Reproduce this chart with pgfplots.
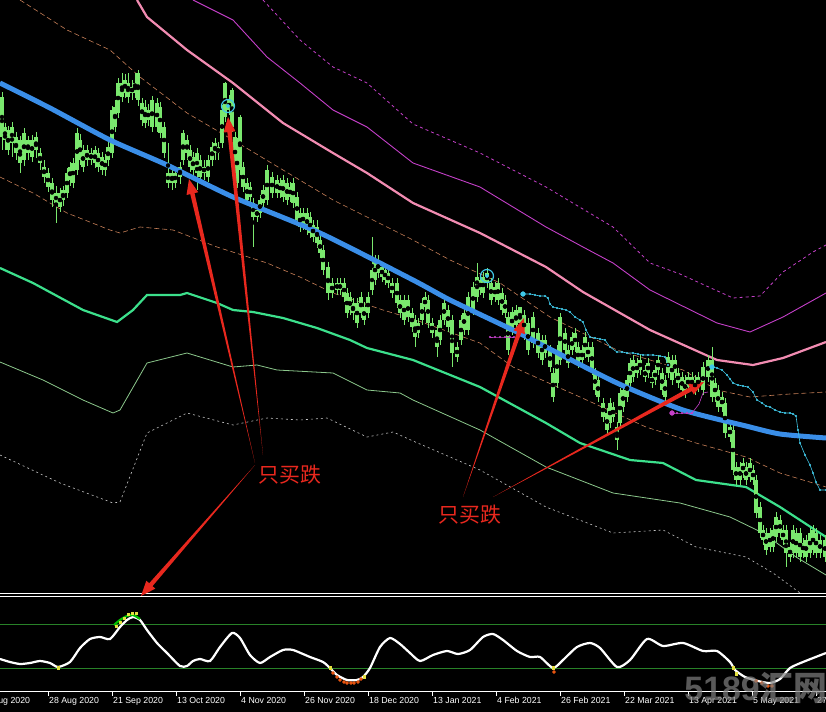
\documentclass[border=0pt]{standalone}
\usepackage{pgfplots}
\pgfplotsset{compat=1.18}
\usepackage{pgfplotstable}
\usetikzlibrary{calc}
\usepackage{fontspec}
\setmainfont{Liberation Sans}
\newfontfamily\cjk{Noto Sans CJK SC}

\definecolor{candle}{RGB}{122,232,110}
\definecolor{maBlue}{RGB}{58,142,232}
\definecolor{bandPink}{RGB}{242,140,178}
\definecolor{bandMag}{RGB}{196,64,200}
\definecolor{bandOrange}{RGB}{200,128,88}
\definecolor{bandGreen}{RGB}{60,224,140}
\definecolor{bandLight}{RGB}{140,200,140}
\definecolor{bandGrey}{RGB}{200,200,200}
\definecolor{stopCyan}{RGB}{64,200,232}
\definecolor{arrowRed}{RGB}{232,40,30}
\definecolor{levelGreen}{RGB}{40,130,40}
\definecolor{dotYellow}{RGB}{228,224,64}
\definecolor{dotOrange}{RGB}{230,84,16}

% candles in screen units: body top/bottom, wick top/bottom (y grows downward)
\pgfplotstableread{
x bt bb wt wb
2 97 137 92 150
5 127 140 123 150
8 130 150 126 155
12 127 143 122 157
16 137 153 132 160
20 140 163 136 173
24 133 160 128 166
28 140 153 136 160
32 140 157 135 162
36 137 150 132 158
40 153 163 148 170
44 167 177 160 183
48 173 187 168 192
52 183 200 178 207
56 193 203 186 223
60 193 207 188 212
63 190 200 186 206
67 173 193 168 198
70 167 180 162 186
73 163 183 158 188
77 133 170 128 175
80 140 160 134 165
83 150 167 145 172
87 150 160 145 166
91 153 160 148 165
95 150 163 146 168
98 153 167 148 172
102 157 170 152 175
105 160 170 154 176
108 147 160 142 166
112 110 153 106 158
115 107 127 100 132
118 83 113 78 118
122 83 97 73 102
125 80 93 74 98
128 83 97 73 103
132 87 93 80 100
135 83 93 73 98
138 73 100 70 106
142 103 120 98 126
145 107 123 100 128
148 110 120 104 126
152 100 127 96 132
157 103 127 98 132
160 107 133 102 138
164 127 153 122 158
168 173 183 143 188
172 173 183 168 190
175 173 183 168 188
180 167 177 162 184
183 133 160 130 165
187 140 153 135 160
190 150 167 145 172
193 157 170 152 176
197 153 173 148 190
200 160 177 155 182
204 167 173 160 180
208 160 177 155 182
212 147 160 142 166
215 143 153 138 160
218 147 153 142 160
222 110 143 105 148
225 83 117 82 122
229 100 110 95 115
232 90 127 88 132
235 137 167 132 172
237 143 183 138 188
240 117 170 115 175
243 167 187 162 192
247 183 200 178 205
250 187 197 182 202
253 203 217 198 247
257 210 217 205 222
260 200 213 195 218
263 190 203 185 208
267 170 200 165 205
272 177 193 172 198
277 180 193 175 198
280 183 193 178 198
283 180 197 175 202
287 183 200 178 205
290 187 197 182 202
293 183 203 178 208
297 197 220 192 225
300 213 227 208 232
303 213 225 208 230
307 213 230 208 235
310 217 233 212 238
313 225 237 220 242
317 227 243 220 248
320 240 253 235 258
323 250 270 245 275
328 267 293 262 300
332 283 293 278 298
337 283 290 278 295
340 283 290 278 295
344 283 297 278 302
347 293 313 288 318
350 297 310 292 315
353 303 313 298 320
357 303 323 298 328
361 297 313 292 318
364 307 320 302 325
368 297 313 292 318
372 270 290 237 295
375 260 280 255 285
378 260 273 255 278
382 267 277 262 282
385 270 280 265 285
388 273 283 268 288
392 283 293 278 298
397 283 303 278 308
400 300 313 295 318
404 300 320 295 325
408 300 317 295 322
412 313 327 308 332
415 320 337 315 347
418 323 333 318 338
422 303 320 298 325
425 297 307 292 312
428 300 323 295 328
432 323 333 318 338
437 330 347 325 357
440 320 340 315 345
444 303 320 298 325
448 310 327 305 332
452 320 353 315 367
457 347 357 342 362
461 320 340 315 345
464 313 330 308 335
468 297 330 292 335
473 287 310 282 315
477 277 297 263 302
480 280 290 275 295
483 277 293 272 298
487 273 283 268 288
491 283 300 278 305
495 287 297 282 302
498 283 300 278 305
502 293 310 288 315
505 300 313 295 318
508 317 350 312 355
512 312 330 307 335
516 310 325 305 332
520 307 323 307 328
524 315 335 310 340
528 323 350 318 355
533 317 343 312 348
538 333 353 328 358
542 340 360 335 365
545 340 353 335 358
550 350 367 345 372
553 373 397 368 402
557 350 383 345 388
560 317 360 313 365
565 333 350 328 355
568 350 363 345 368
572 337 350 332 355
575 333 347 328 352
578 347 363 342 368
582 350 360 345 365
585 337 353 332 358
588 347 357 342 362
592 347 370 342 375
595 373 390 368 395
598 380 397 375 402
603 403 417 398 422
607 413 430 408 435
610 403 423 398 428
613 407 417 402 422
617 427 440 422 450
620 393 423 388 428
623 390 407 385 412
627 380 397 375 402
630 363 383 358 388
633 360 377 355 382
637 363 373 358 378
640 360 370 355 375
645 370 377 365 382
648 363 373 358 378
652 377 383 372 388
655 370 380 365 385
658 360 370 355 375
662 373 390 368 395
665 380 397 375 402
668 357 373 352 378
672 360 380 355 385
675 360 373 355 378
678 373 383 368 388
682 377 390 372 395
685 380 393 375 398
688 377 387 372 392
692 377 387 372 392
695 380 390 375 395
698 377 387 372 392
703 367 390 362 395
708 360 377 355 382
712 360 397 347 402
715 383 397 378 402
718 390 407 385 412
722 397 407 392 412
725 403 433 398 438
730 427 437 422 442
733 430 470 425 475
736 467 480 462 485
740 467 480 462 485
743 463 473 458 478
746 467 480 462 485
750 463 477 458 482
753 470 480 465 485
756 480 513 475 518
760 507 533 502 538
763 530 540 525 545
766 533 550 528 555
770 533 547 528 552
773 530 547 525 552
776 517 537 512 542
780 520 533 515 538
783 530 540 525 545
786 530 553 525 567
790 547 557 542 562
793 530 553 525 558
796 533 553 528 558
800 533 557 528 562
803 543 553 538 558
806 540 557 535 562
810 533 553 528 558
813 530 550 525 555
816 533 553 528 558
820 540 553 535 558
825 540 557 535 562
}\candles

\newcommand{\taper}[2]{%
  \coordinate (T) at (axis cs:#1);
  \coordinate (H) at (axis cs:#2);
  \coordinate (B) at ($(H)!15bp!(T)$);
  \fill[arrowRed] (T) -- ($(B)!2.2bp!90:(H)$) -- ($(B)!6bp!90:(H)$) -- (H)
    -- ($(B)!6bp!-90:(H)$) -- ($(B)!2.2bp!-90:(H)$) -- cycle;
}

\begin{document}
\begin{tikzpicture}
\path[use as bounding box] (0,0) rectangle (826bp,712bp);
\clip (0,0) rectangle (826bp,712bp);
\fill[black] (0,0) rectangle (826bp,712bp);

% ---------------- price window ----------------
\begin{axis}[
  at={(0bp,712bp)}, anchor=north west,
  scale only axis, width=826bp, height=593bp,
  xmin=0, xmax=826, ymin=0, ymax=593, y dir=reverse,
  hide axis, clip=false,
]
% outer bands
\addplot[bandMag, line width=0.8bp, dash pattern=on 3bp off 3bp] coordinates {
(263,0) (300,40) (333,67) (367,83) (413,124) (480,153) (546,187) (613,227)
(650,263) (680,274) (733,298) (760,296) (783,272) (813,252) (826,245)};
\addplot[bandMag, line width=0.9bp] coordinates {
(193,0) (233,20) (267,57) (300,83) (333,110) (367,127) (413,163) (480,187)
(546,227) (583,247) (613,263) (650,290) (717,323) (750,332) (783,317) (826,293)};
\addplot[bandPink, line width=2.2bp] coordinates {
(137,0) (147,17) (187,50) (233,83) (283,123) (333,153) (367,173) (413,203)
(480,233) (546,267) (583,292) (650,330) (717,360) (753,365) (783,358) (826,342)};
\addplot[bandOrange, line width=0.6bp, dash pattern=on 5bp off 3bp] coordinates {
(20,0) (67,30) (110,50) (140,77) (187,113) (233,140) (283,170) (333,200)
(413,240) (450,260) (500,283) (550,317) (617,350) (683,370) (717,390)
(750,397) (790,394) (826,392)};
\addplot[bandOrange, line width=0.6bp, dash pattern=on 5bp off 3bp] coordinates {
(0,177) (33,193) (67,213) (110,230) (120,233) (140,227) (173,230) (217,247)
(267,263) (300,277) (333,293) (383,310) (413,319) (480,343) (513,367)
(580,397) (646,427) (696,443) (746,457) (780,473) (813,483) (826,487)};
\addplot[bandGreen, line width=2.2bp] coordinates {
(0,268) (33,283) (83,310) (117,322) (133,310) (147,295) (180,295) (187,293)
(217,303) (233,310) (253,312) (283,318) (317,328) (350,340) (367,348)
(413,360) (480,387) (546,423) (580,443) (630,460) (663,463) (696,480)
(746,487) (780,507) (826,537)};
\addplot[bandLight, line width=0.8bp] coordinates {
(0,362) (43,380) (83,400) (113,413) (120,410) (147,363) (187,353) (233,367)
(257,365) (277,370) (333,373) (367,390) (400,393) (413,400) (480,430)
(546,467) (613,493) (680,503) (730,517) (763,533) (796,557) (826,575)};
\addplot[bandGrey, line width=0.6bp, dash pattern=on 2bp off 3bp] coordinates {
(0,455) (60,483) (113,503) (120,502) (147,433) (187,413) (233,425) (267,418)
(300,420) (327,418) (367,437) (393,432) (413,441) (480,470) (546,507)
(613,533) (663,530) (696,547) (746,557) (773,573) (796,590) (800,593)};

% candles
\addplot[only marks, mark=none, error bars/.cd, y dir=both, y explicit,
  error mark=none, error bar style={draw=candle, line width=1bp}]
  table[x=x, y expr={(\thisrow{wt}+\thisrow{wb})/2},
        y error expr={(\thisrow{wb}-\thisrow{wt})/2}] {\candles};
\addplot[only marks, mark=none, error bars/.cd, y dir=both, y explicit,
  error mark=none, error bar style={draw=candle, line width=3.1bp}]
  table[x=x, y expr={(\thisrow{bt}+\thisrow{bb})/2},
        y error expr={(\thisrow{bb}-\thisrow{bt})/2}] {\candles};

% moving average
\addplot[maBlue, line width=5bp, smooth, tension=0.4] coordinates {
(0,83) (50,108) (110,140) (167,165) (233,197) (320,233) (413,280) (450,300)
(517,332) (546,347) (617,383) (683,410) (746,426) (780,434) (826,438)};

% trailing stops
\addplot[stopCyan, line width=0.6bp, mark=*, mark size=0.7bp] coordinates {
(523,294) (530,294) (535,295) (540,296) (545,296) (548,298) (550,304) (553,307)
(557,308) (562,309) (566,310) (570,312) (575,317) (580,320) (583,322) (586,330)
(590,337) (595,338) (600,339) (605,340) (610,347) (617,352) (622,352) (627,353)
(633,353) (638,354) (643,355) (648,355) (653,355) (660,356) (665,357) (668,365)};
\addplot[stopCyan, line width=0.6bp, mark=*, mark size=0.7bp] coordinates {
(712,367) (717,368) (722,370) (727,375) (730,379) (733,383) (738,385) (743,386)
(748,387) (753,392) (757,400) (762,403) (766,406) (770,407) (775,410) (780,412)
(785,413) (790,413) (793,414) (796,416) (798,430) (800,443) (805,455) (810,465)
(813,473) (816,482) (820,490) (826,490)};
\addplot[stopCyan, only marks, mark=*, mark size=2.4bp] coordinates {(523,294) (712,367)};
\addplot[bandMag, line width=0.6bp, mark=*, mark size=0.7bp] coordinates {
(490,337) (495,337) (500,337) (505,337) (510,337) (514,337)};
\addplot[bandMag, line width=0.6bp, mark=*, mark size=0.7bp] coordinates {
(672,413) (677,413) (682,413) (687,413) (692,413)};
\addplot[bandMag, line width=0.6bp] coordinates {(692,413) (699,404) (703,393) (708,392)};
\addplot[bandMag, only marks, mark=*, mark size=2.4bp] coordinates {(672,413)};
% signal circles
\addplot[stopCyan, only marks, mark=o, mark size=6.5bp, line width=1.2bp] coordinates {(228,106) (487,276)};
\addplot[stopCyan, only marks, mark=*, mark size=1.8bp] coordinates {(228,106) (487,276)};

\draw[white, line width=0.9bp] (axis cs:0,593) -- (axis cs:826,593);

% annotations
\taper{255,463}{189,179}
\taper{263,455}{228,117}
\taper{255,465}{141,596}
\taper{463,497}{524,318}
\taper{493,497}{704,382}
\node[text=arrowRed, font=\cjk\fontsize{21}{21}\selectfont] at (axis cs:290,475) {只买跌};
\node[text=arrowRed, font=\cjk\fontsize{21}{21}\selectfont] at (axis cs:470,515) {只买跌};
\end{axis}

% ---------------- oscillator window ----------------
\begin{axis}[
  at={(0bp,116bp)}, anchor=north west,
  scale only axis, width=826bp, height=95bp,
  xmin=0, xmax=826, ymin=596, ymax=691, y dir=reverse,
  clip=false, axis line style={draw=none},
  ytick=\empty, xtick pos=left, tick align=outside,
  major tick length=5bp,
  xtick style={draw=white, line width=0.7bp},
  xtick={48,112,176,240,304,368,432,496,560,624,688,752,816},
  xticklabels={28 Aug 2020,21 Sep 2020,13 Oct 2020,4 Nov 2020,26 Nov 2020,
    18 Dec 2020,13 Jan 2021,4 Feb 2021,26 Feb 2021,22 Mar 2021,13 Apr 2021,
    5 May 2021,27 May 2021},
  xticklabel style={anchor=north west, inner sep=0pt, xshift=1bp, yshift=-1bp,
    text=white, font=\fontsize{8.8}{10}\selectfont},
]
\addplot[levelGreen, line width=0.8bp] coordinates {(0,624) (826,624)};
\addplot[levelGreen, line width=0.8bp] coordinates {(0,668) (826,668)};
\addplot[white, line width=2.2bp, smooth, tension=0.4] coordinates {
(0,659) (10,662) (20,664) (30,663) (40,661) (50,663) (58,667) (70,662) (80,648)
(90,639) (100,637) (110,639) (120,627) (127,620) (133,617) (140,620) (147,630)
(157,643) (167,653) (180,666) (187,666) (193,661) (200,659) (210,661) (220,647)
(232,633) (240,638) (250,655) (260,663) (270,657) (283,650) (293,650) (310,657)
(323,662) (330,668) (337,675) (347,680) (357,680) (363,677) (370,668) (380,647)
(390,638) (400,644) (410,653) (420,661) (433,655) (447,651) (458,654) (470,650)
(483,637) (493,634) (503,640) (517,651) (530,657) (540,657) (553,668) (563,660)
(577,647) (590,643) (600,648) (617,667) (630,660) (647,639) (663,646) (683,643)
(703,651) (717,651) (730,662) (735,670) (745,677) (758,681) (770,683) (780,679)
(790,668) (803,662) (826,653)};
\addplot[green!75!black, line width=2.2bp, smooth] coordinates {
(114,625) (120,620) (127,616) (133,615) (140,619)};
\addplot[dotYellow, only marks, mark=square*, mark size=1.3bp] coordinates {
(58,668) (116,626) (120,622) (124,618) (128,614) (132,613) (136,613)
(330,668) (364,677) (553,668) (733,668) (736,674)};
\addplot[dotOrange, only marks, mark=*, mark size=1.6bp] coordinates {
(333,673) (337,677) (340,680) (344,682) (347,683) (351,683) (354,683) (358,682)
(361,679) (554,672) (756,681) (762,683) (768,686) (772,686)};
\draw[white, line width=0.9bp] (axis cs:0,596) -- (axis cs:826,596);
\draw[white, line width=0.9bp] (axis cs:0,691) -- (axis cs:826,691);
\node[anchor=north west, inner sep=0pt, text=white, font=\fontsize{8.8}{10}\selectfont]
  at ([xshift=1bp, yshift=-6bp]axis cs:-16,691) {6 Aug 2020};
\end{axis}

\node[text=gray, opacity=0.7, font=\bfseries\fontsize{34}{34}\selectfont]
  at (756bp,24bp) {5189{\cjk 汇网}};
\end{tikzpicture}
\end{document}
